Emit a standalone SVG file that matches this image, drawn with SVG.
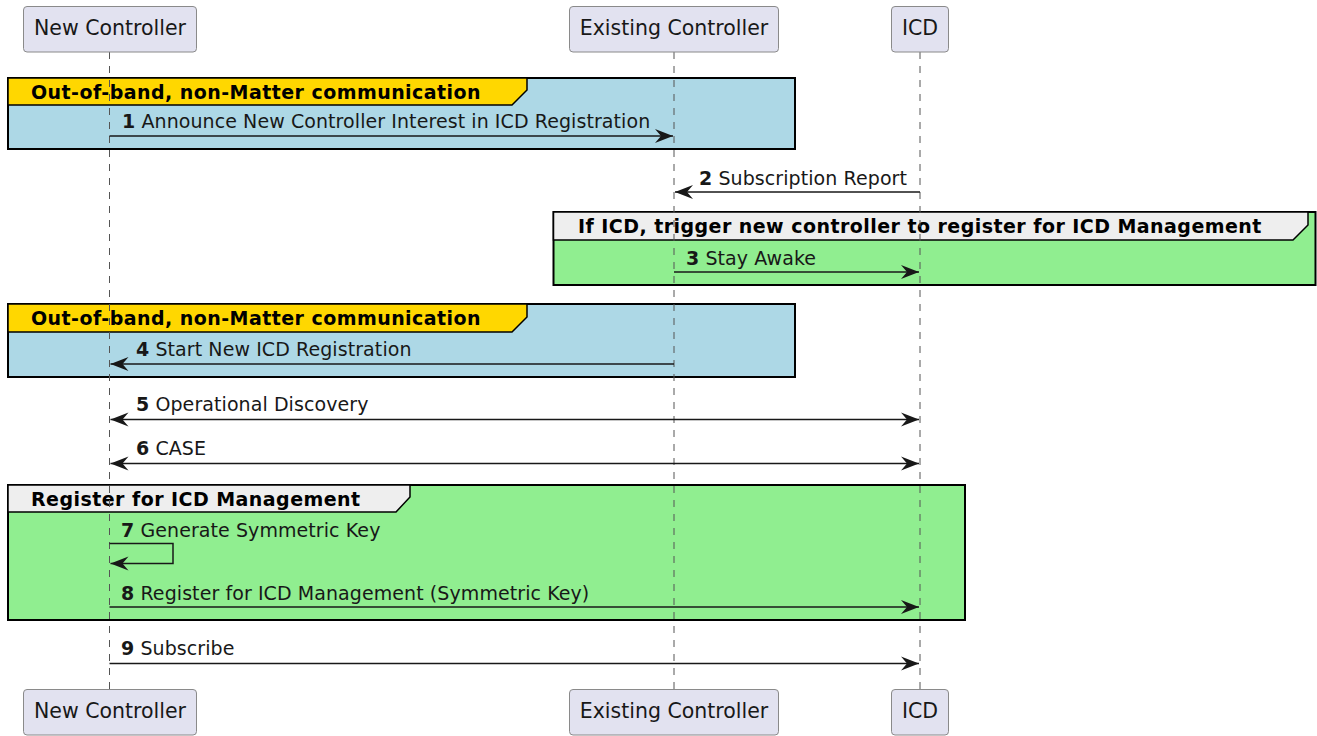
<svg xmlns="http://www.w3.org/2000/svg" width="1317" height="736" viewBox="0 0 1317 736">
<defs>
<style>
.bg{fill:#ffffff}
.pbox{fill:#E2E2F0;stroke:#8a8a8a;stroke-width:1}
.ptext{font-family:"DejaVu Sans",sans-serif;font-size:20.5px;fill:#181818;text-anchor:middle}
.life{stroke:#555555;stroke-width:1;stroke-dasharray:7,7;fill:none}
.grp{stroke:#000000;stroke-width:2}
.hdr{stroke:#000000;stroke-width:1.5}
.blue{fill:#ADD8E6}
.green{fill:#90EE90}
.gold{fill:#FFD700}
.grey{fill:#EEEEEE}
.gtext{font-family:"DejaVu Sans",sans-serif;font-size:19px;font-weight:bold;fill:#000000;letter-spacing:0.45px}
.msg{stroke:#181818;stroke-width:1.5;fill:none}
.mtext{font-family:"DejaVu Sans",sans-serif;font-size:19px;fill:#181818;letter-spacing:0.08px}
.num{font-weight:bold}
</style>
<marker id="ah" viewBox="-20 -8 21 16" markerWidth="21" markerHeight="16" refX="0" refY="0" orient="auto-start-reverse" markerUnits="userSpaceOnUse">
<path d="M0,0 L-18,-7 L-12,0 L-18,7 Z" fill="#181818"/>
</marker>
</defs>
<rect class="bg" x="0" y="0" width="1317" height="736"/>

<g id="group1">
<rect class="grp blue" x="8" y="78" width="787" height="71"/>
<path class="hdr gold" d="M8,78 H527 V90 L512,105 H8 Z"/>
<text class="gtext" x="31" y="99">Out-of-band, non-Matter communication</text>
</g>
<g id="group2">
<rect class="grp green" x="553.5" y="212" width="762" height="73"/>
<path class="hdr grey" d="M553.5,212 H1308 V225 L1293,240 H553.5 Z"/>
<text class="gtext" x="578" y="233">If ICD, trigger new controller to register for ICD Management</text>
</g>
<g id="group3">
<rect class="grp blue" x="8" y="304" width="787" height="73"/>
<path class="hdr gold" d="M8,304 H527 V317 L512,332 H8 Z"/>
<text class="gtext" x="31" y="325">Out-of-band, non-Matter communication</text>
</g>
<g id="group4">
<rect class="grp green" x="8" y="485" width="957" height="135"/>
<path class="hdr grey" d="M8,485 H410 V497 L396,512 H8 Z"/>
<text class="gtext" x="31" y="506">Register for ICD Management</text>
</g>

<g id="lifelines">
<line class="life" x1="109.5" y1="52" x2="109.5" y2="689"/>
<line class="life" x1="674" y1="52" x2="674" y2="689"/>
<line class="life" x1="920" y1="52" x2="920" y2="689"/>
</g>

<g id="participant-new-controller">
<rect class="pbox" x="23.5" y="6.5" width="173" height="45.5" rx="3.5"/>
<text class="ptext" x="110" y="35">New Controller</text>
<rect class="pbox" x="23.5" y="689.5" width="173" height="45.5" rx="3.5"/>
<text class="ptext" x="110" y="718">New Controller</text>
</g>
<g id="participant-existing-controller">
<rect class="pbox" x="569.5" y="6.5" width="209" height="45.5" rx="3.5"/>
<text class="ptext" x="674" y="35">Existing Controller</text>
<rect class="pbox" x="569.5" y="689.5" width="209" height="45.5" rx="3.5"/>
<text class="ptext" x="674" y="718">Existing Controller</text>
</g>
<g id="participant-icd">
<rect class="pbox" x="891.5" y="6.5" width="57" height="45.5" rx="3.5"/>
<text class="ptext" x="920" y="35">ICD</text>
<rect class="pbox" x="891.5" y="689.5" width="57" height="45.5" rx="3.5"/>
<text class="ptext" x="920" y="718">ICD</text>
</g>

<g id="connectors">
<line class="msg" x1="109.5" y1="136" x2="673" y2="136" marker-end="url(#ah)"/>
<line class="msg" x1="920" y1="192" x2="675" y2="192" marker-end="url(#ah)"/>
<line class="msg" x1="674" y1="272" x2="919" y2="272" marker-end="url(#ah)"/>
<line class="msg" x1="674" y1="364" x2="110.5" y2="364" marker-end="url(#ah)"/>
<line class="msg" x1="110.5" y1="419.5" x2="919" y2="419.5" marker-start="url(#ah)" marker-end="url(#ah)"/>
<line class="msg" x1="110.5" y1="463.5" x2="919" y2="463.5" marker-start="url(#ah)" marker-end="url(#ah)"/>
<path class="msg" d="M109.5,543.5 H173 V563.5 H110.5" marker-end="url(#ah)"/>
<line class="msg" x1="109.5" y1="607" x2="919" y2="607" marker-end="url(#ah)"/>
<line class="msg" x1="109.5" y1="663.5" x2="919" y2="663.5" marker-end="url(#ah)"/>
</g>

<g id="labels">
<text class="mtext" x="122" y="128"><tspan class="num">1</tspan> Announce New Controller Interest in ICD Registration</text>
<text class="mtext" x="699" y="185"><tspan class="num">2</tspan> Subscription Report</text>
<text class="mtext" x="686" y="265"><tspan class="num">3</tspan> Stay Awake</text>
<text class="mtext" x="136" y="356"><tspan class="num">4</tspan> Start New ICD Registration</text>
<text class="mtext" x="136" y="411"><tspan class="num">5</tspan> Operational Discovery</text>
<text class="mtext" x="136" y="455"><tspan class="num">6</tspan> CASE</text>
<text class="mtext" x="121" y="537"><tspan class="num">7</tspan> Generate Symmetric Key</text>
<text class="mtext" x="121" y="600"><tspan class="num">8</tspan> Register for ICD Management (Symmetric Key)</text>
<text class="mtext" x="121" y="655"><tspan class="num">9</tspan> Subscribe</text>
</g>
</svg>
